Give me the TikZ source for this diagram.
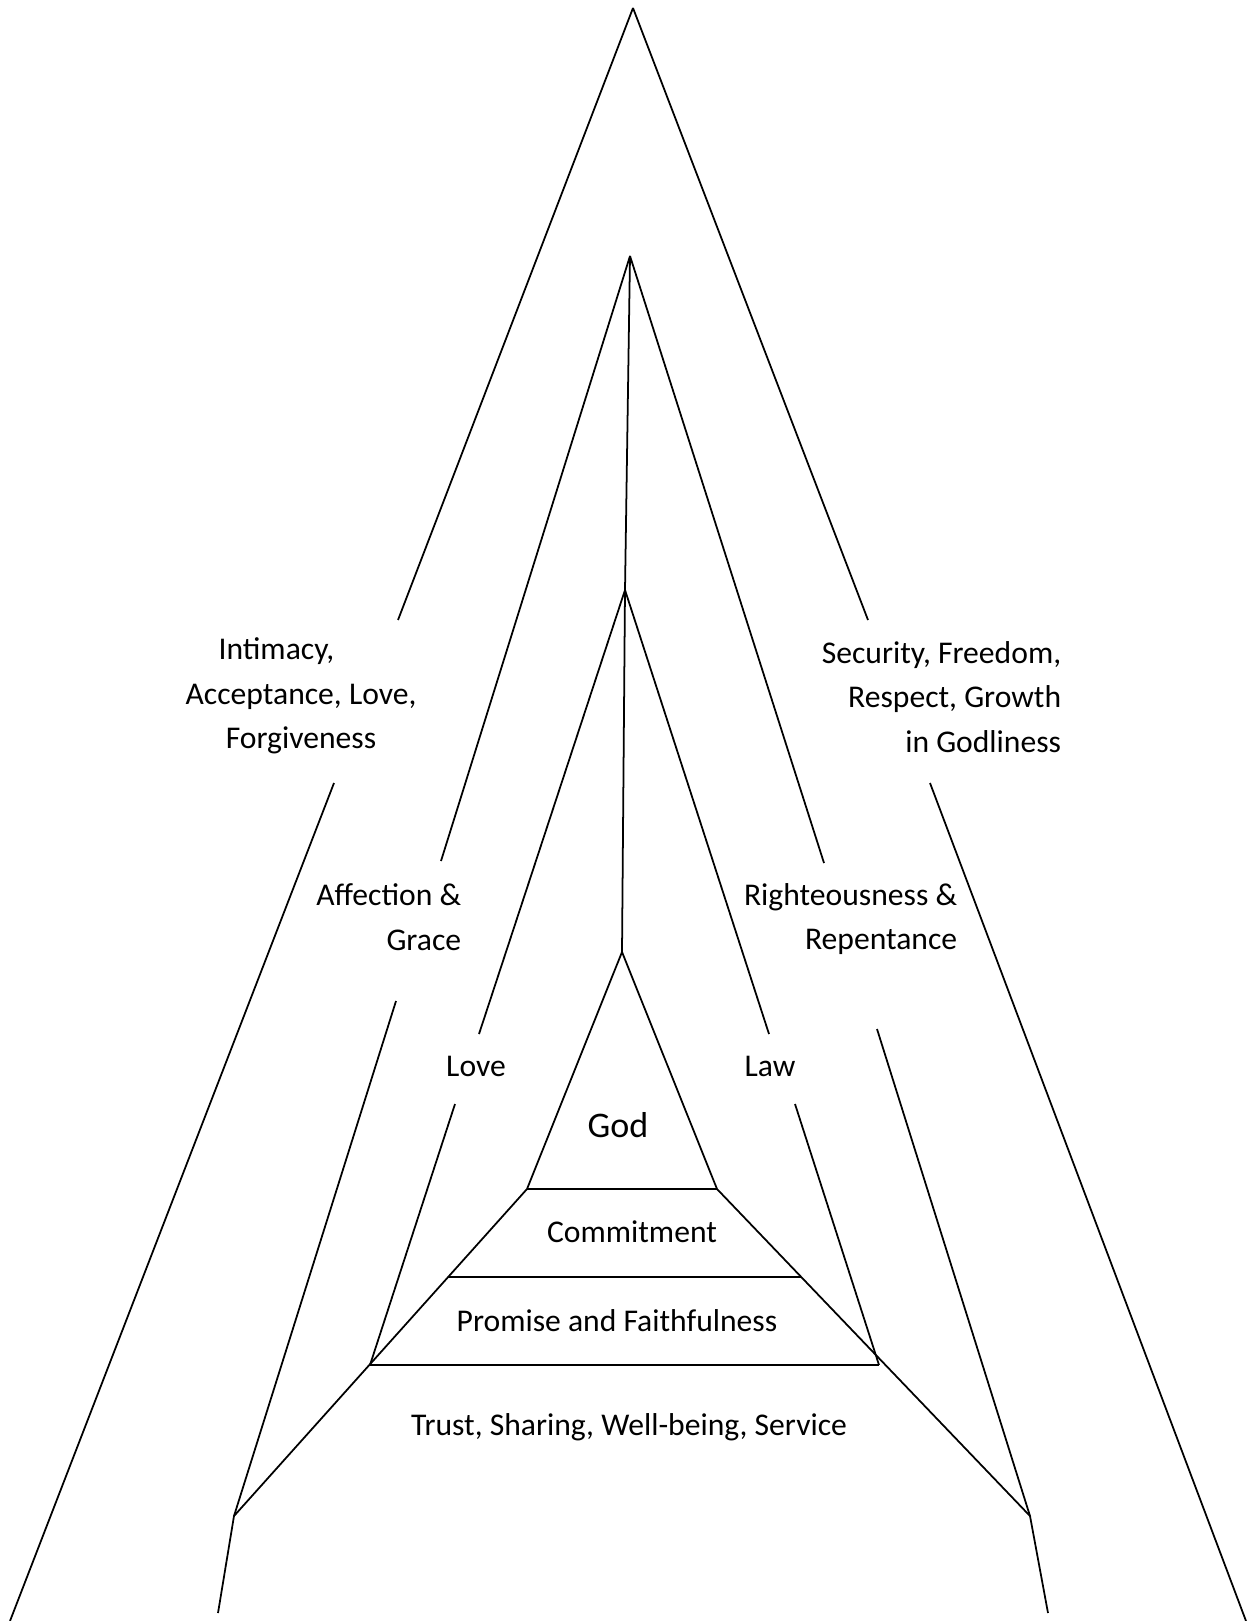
\documentclass[tikz,border=0pt]{standalone}
\usepackage{fontspec}
\setmainfont{Carlito}
\usepackage{tikz}

\begin{document}
\begin{tikzpicture}[x=0.02cm, y=-0.02cm, line width=1pt]
	\tikzstyle{lbl}=[font=\fontsize{18}{25.3}\selectfont, inner sep=0pt]
	\useasboundingbox (0,0) rectangle (1255,1621);
	% apexes and the vertical axis
	\coordinate (oa) at (633,8);
	\coordinate (sa) at (630,256);
	\coordinate (ta) at (625,590);
	\coordinate (ga) at (622,952);
	% outer lines
	\coordinate (ol1) at (398,620);
	\coordinate (ol2) at (334,783);
	\coordinate (olf) at (10,1621);
	\coordinate (or1) at (868,620);
	\coordinate (or2) at (930,783);
	\coordinate (orf) at (1246,1621);
	% second lines
	\coordinate (sl1) at (441,861);
	\coordinate (sl2) at (396,1001);
	\coordinate (slf) at (234,1516);
	\coordinate (slb) at (218,1613);
	\coordinate (sr1) at (824,863);
	\coordinate (sr2) at (877,1029);
	\coordinate (srf) at (1030,1516);
	\coordinate (srb) at (1048,1613);
	% third lines
	\coordinate (tl1) at (479,1034);
	\coordinate (tl2) at (455,1104);
	\coordinate (tlf) at (370,1365);
	\coordinate (tr1) at (769,1034);
	\coordinate (tr2) at (795,1104);
	\coordinate (trf) at (879,1365);
	% inner triangle and trapezoid
	\coordinate (gl) at (527,1189);
	\coordinate (gr) at (717,1189);
	\coordinate (cl) at (448,1277);
	\coordinate (cr) at (801,1277);
	\foreach \a/\b in {oa/ol1,ol2/olf,oa/or1,or2/orf,
	                   sa/sl1,sl2/slf,slf/slb,sa/sr1,sr2/srf,srf/srb,
	                   ta/tl1,tl2/tlf,ta/tr1,tr2/trf,
	                   sa/ta,ta/ga,ga/gl,ga/gr,gl/gr,cl/cr,tlf/trf,
	                   gl/slf,gr/srf} {
		\draw (\a) -- (\b);
	}
	% labels
	\node[lbl, align=center] (intimacy) at (301,696) {\mbox{Intimacy,\hspace{28pt}}\\Acceptance, Love,\\Forgiveness};
	\node[lbl, align=right, anchor=east] (security) at (1062,697) {Security, Freedom,\\Respect, Growth\\in Godliness};
	\node[lbl, align=right, anchor=east] (affection) at (462,917) {Affection \&\\Grace};
	\node[lbl, align=right, anchor=east] (righteous) at (958,919) {Righteousness \&\\Repentance};
	\node[lbl] (love) at (476,1066) {Love};
	\node[lbl] (law) at (770,1066) {Law};
	\node[lbl, font=\fontsize{20.5}{24}\selectfont] (god) at (618,1125) {God};
	\node[lbl] (commit) at (632,1232) {Commitment};
	\node[lbl] (promise) at (617,1321) {Promise and Faithfulness};
	\node[lbl] (trust) at (629,1427) {Trust, Sharing, Well-being, Service};
\end{tikzpicture}
\end{document}
